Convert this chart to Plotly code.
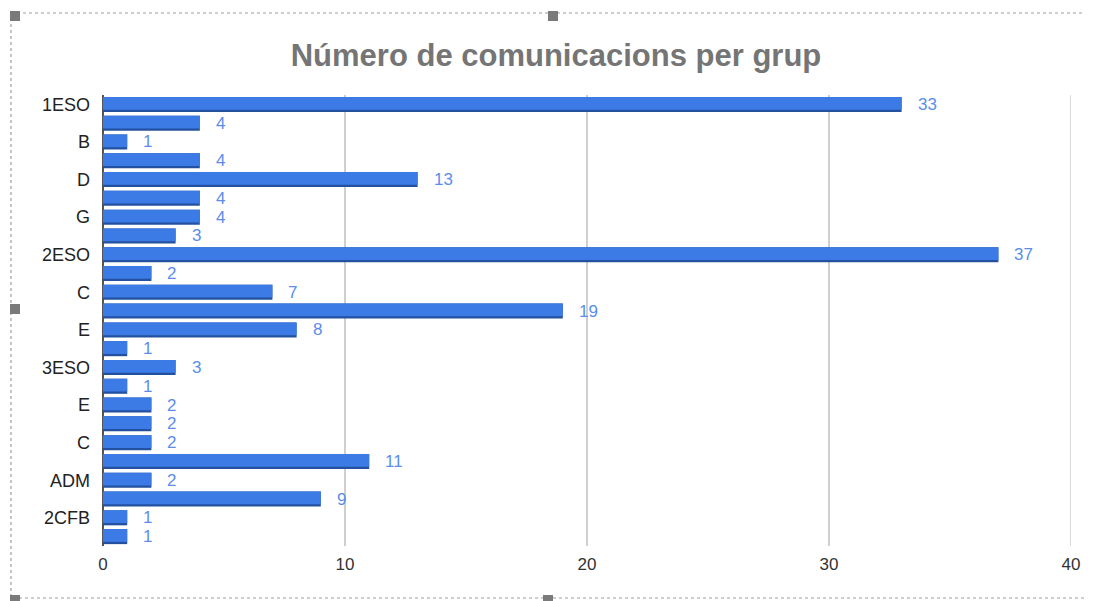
import plotly.graph_objects as go

categories = ["1ESO", "A", "B", "C", "D", "E", "G", "H",
              "2ESO", "B", "C", "D", "E", "F",
              "3ESO", "A", "E", "B", "C", "D",
              "ADM", "1CFB", "2CFB", "3CFB"]
values = [33, 4, 1, 4, 13, 4, 4, 3,
          37, 2, 7, 19, 8, 1,
          3, 1, 2, 2, 2, 11,
          2, 9, 1, 1]
x_ticks = [0, 10, 20, 30, 40]
title_text = "Número de comunicacions per grup"

positions = list(range(len(categories)))
shown_pos = positions[::2]
shown_text = [categories[i] for i in shown_pos]

# page body has an 8px margin; figure is sized so it ends at the window edge
OFF = 8
W, H = 1093 - OFF, 601 - OFF
# plot area in screen coords: x 103..1071, y 95..546
L, R = 103 - OFF, (1093 - 1071)
T, B = 95 - OFF, (601 - 546)
pw, ph = W - L - R, H - T - B

def px(x):
    return (x - OFF - L) / pw

def py(y):
    return (H - B - (y - OFF)) / ph

FONT = "Liberation Sans, Arial"

fig = go.Figure()
# darker base (shadow)
fig.add_trace(go.Bar(
    x=values, y=positions, orientation="h",
    width=0.8, offset=-0.4,
    marker=dict(color="#23509f", line=dict(width=0)),
    hoverinfo="skip", showlegend=False,
))
# main bar
fig.add_trace(go.Bar(
    x=values, y=positions, orientation="h",
    width=0.68, offset=-0.4,
    marker=dict(color="#3c7be6", line=dict(width=0)),
    showlegend=False,
))

annotations = []
for v, p in zip(values, positions):
    annotations.append(dict(x=v, y=p, xref="x", yref="y", text=str(v), showarrow=False,
                            xanchor="left", yanchor="middle", xshift=14,
                            font=dict(family=FONT, size=17, color="#5b8dec")))

shapes = []
# gridline at the right end of the axis
shapes.append(dict(type="line", xref="x", yref="paper", x0=x_ticks[-1], x1=x_ticks[-1], y0=0, y1=1,
                   line=dict(color="#cfcfcf", width=1.5), layer="below"))
# dashed selection border
shapes.append(dict(type="rect", xref="paper", yref="paper",
                   x0=px(11), x1=px(1092), y0=py(13), y1=py(598),
                   line=dict(color="#9e9e9e", width=1.2, dash="dot"),
                   fillcolor="rgba(0,0,0,0)", layer="above"))
handles = [(15, 16), (553, 16), (15, 309), (1094, 309), (15, 600), (548, 600), (1094, 16), (1094, 600)]
for hx, hy in handles:
    shapes.append(dict(type="rect", xref="paper", yref="paper",
                       x0=px(hx - 5), x1=px(hx + 5), y0=py(hy + 5), y1=py(hy - 5),
                       line=dict(width=0), fillcolor="#7a7a7a", layer="above"))

fig.update_layout(
    width=W, height=H,
    margin=dict(l=L, r=R, t=T, b=B),
    paper_bgcolor="white", plot_bgcolor="white",
    barmode="overlay",
    title=dict(text=f"<b>{title_text}</b>", x=(556 - OFF) / W, xanchor="center",
               y=1 - (55 - OFF) / H, yanchor="middle",
               font=dict(family=FONT, size=31, color="#757575")),
    xaxis=dict(range=[0, 40], tickvals=x_ticks, showgrid=True, gridcolor="#cfcfcf", gridwidth=1.5,
               zeroline=True, zerolinecolor="#555555", zerolinewidth=1.5,
               tickfont=dict(family=FONT, size=17, color="#333333"),
               ticks="", ticklabelstandoff=6, fixedrange=True),
    yaxis=dict(range=[23.5, -0.5], tickvals=shown_pos, ticktext=shown_text,
               showgrid=False, zeroline=False, ticks="",
               tickfont=dict(family=FONT, size=18, color="#222222"),
               ticklabelstandoff=12, fixedrange=True),
    shapes=shapes,
    annotations=annotations,
    font=dict(family=FONT),
)

fig.write_html("out.html")
